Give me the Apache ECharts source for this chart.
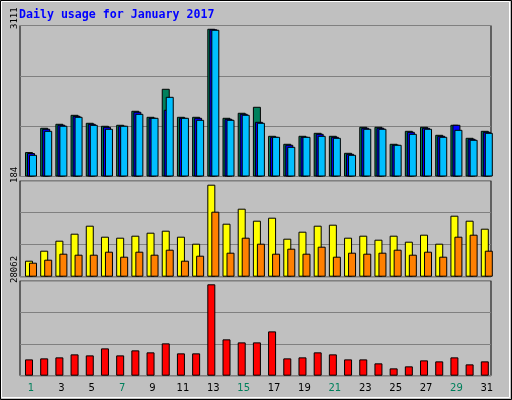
<!DOCTYPE html>
<html>
<head>
<meta charset="utf-8">
<script src="https://cdn.jsdelivr.net/npm/echarts@6/dist/echarts.min.js"></script>
<style>
  html, body { margin: 0; padding: 0; background: #c0c0c0; }
  #chart { width: 512px; height: 400px; }
</style>
</head>
<body>
<div id="chart"></div>
<script>
// data
const days = ["1","2","3","4","5","6","7","8","9","10","11","12","13","14","15","16","17","18","19","20","21","22","23","24","25","26","27","28","29","30","31"];
const weekendDays = ["1","7","8","14","15","21","22","28","29"];

const hits  = [514,1026,1110,1299,1131,1068,1089,1384,1257,1847,1257,1257,3111,1236,1342,1468,857,689,857,920,857,499,1047,1047,689,962,1047,878,1089,815,962];
const files = [494,1005,1090,1278,1110,1047,1068,1363,1236,1405,1236,1236,3100,1215,1321,1152,836,668,836,899,836,478,1026,1026,668,941,1026,857,1089,794,941];
const pages = [457,962,1069,1257,1088,1005,1069,1320,1236,1678,1236,1194,3090,1194,1300,1131,836,625,836,857,815,457,1005,1005,668,899,1005,836,983,773,920];

const visits = [32,52,72,86,102,80,78,82,88,92,80,66,184,106,136,112,118,76,90,102,104,78,82,74,82,70,84,66,122,112,96];
const sites  = [28,34,46,44,44,50,40,50,44,54,32,42,130,48,78,66,46,56,46,60,40,48,46,48,54,44,50,40,80,84,52];

const kbytes = [5010,5320,5630,6550,6240,8390,6240,7780,7170,9930,6860,6860,28062,11160,10230,10230,13610,5320,5630,7170,6550,5010,5010,3790,2250,2870,4710,4400,5630,3480,4400];

const panelMax = [3111, 184, 28062];

const chart = echarts.init(document.getElementById("chart"));

const panels = [
  { top: 25.5, height: 151, max: 3180, interval: 1060 },
  { top: 180.7, height: 96, max: 192, interval: 64 },
  { top: 280.7, height: 95, max: 29170, interval: 9723.33 },
];

const grids = [];
const xAxes = [];
const yAxes = [];
panels.forEach((p, i) => {
  // frame + gridlines
  grids.push({ left: 20, width: 471, top: p.top, height: p.height, show: true,
    backgroundColor: "#c0c0c0", borderColor: "#000", borderWidth: 1 });
  xAxes.push({ type: "category", gridIndex: 2 * i, data: days, show: false });
  yAxes.push({ type: "value", gridIndex: 2 * i, min: 0, max: p.max, interval: p.interval,
    axisLabel: { show: false }, axisLine: { show: false }, axisTick: { show: false },
    splitLine: { lineStyle: { color: "#808080", width: 1 } } });
  // bars, shifted right
  grids.push({ left: 23.4, width: 471, top: p.top, height: p.height });
  const isLast = i === panels.length - 1;
  xAxes.push({ type: "category", gridIndex: 2 * i + 1, data: days,
    axisLine: { show: false }, axisTick: { show: false },
    axisLabel: { show: isLast, margin: 8, fontFamily: "DejaVu Sans", fontSize: 10,
      color: (v) => weekendDays.includes(v) ? "#00805c" : "#000" } });
  yAxes.push({ type: "value", gridIndex: 2 * i + 1, min: 0, max: p.max, show: false,
    splitLine: { show: false } });
});

const bar = (name, data, color, idx) => ({
  name, type: "bar", data, xAxisIndex: idx, yAxisIndex: idx,
  barWidth: 8, itemStyle: { color, borderColor: "#000", borderWidth: 1 },
  animation: false,
});

const series = [
  Object.assign(bar("Hits", hits, "#00805c", 1), { barGap: "-75%" }),
  bar("Files", files, "#0000ff", 1),
  bar("Pages", pages, "#00bfff", 1),
  Object.assign(bar("Visits", visits, "#ffff00", 3), { barGap: "-50%" }),
  bar("Sites", sites, "#ff8000", 3),
  Object.assign(bar("kB F", kbytes, "#ff0000", 5), { barGap: "-50%" }),
  bar("pad", days.map(() => null), "transparent", 5),
];

const sideText = (x, y, text, rich) => ({
  type: "text", x, y, rotation: Math.PI / 2,
  style: { text, rich, font: "9px 'DejaVu Sans Mono'", fill: "#000",
    textAlign: "left", textVerticalAlign: "middle" },
});

const mono = (c) => ({ fill: c, fontFamily: "DejaVu Sans Mono", fontSize: 9.5 });

chart.setOption({
  backgroundColor: "#c0c0c0",
  animation: false,
  grid: grids,
  xAxis: xAxes,
  yAxis: yAxes,
  series,
  graphic: [
    { type: "rect", shape: { x: 0.5, y: 0.5, width: 511, height: 399 },
      style: { fill: "none", stroke: "#000", lineWidth: 1 } },
    { type: "rect", shape: { x: 1.5, y: 1.5, width: 508, height: 396 },
      style: { fill: "none", stroke: "#fff", lineWidth: 1 } },
    { type: "text", x: 19, y: 15,
      style: { text: "Daily usage for January 2017", fill: "#0000ff",
        font: "bold 11.6px 'DejaVu Sans Mono'", textVerticalAlign: "middle" } },
    sideText(15, 29, String(panelMax[0]), {}),
    sideText(15, 183, String(panelMax[1]), {}),
    sideText(15, 283, String(panelMax[2]), {}),
    { type: "text", x: 0, y: 0, rotation: Math.PI / 2, position: [499, 137],
      style: { text: "{p|Pages} / {f|Files} / {h|Hits}", textAlign: "left",
        textVerticalAlign: "middle", font: "9.5px 'DejaVu Sans Mono'", fill: "#000",
        rich: { p: mono("#00bfff"), f: mono("#0000ff"), h: mono("#00805c") } } },
    { type: "text", x: 0, y: 0, rotation: Math.PI / 2, position: [499, 247],
      style: { text: "{s|Sites} / {v|Visits}", textAlign: "left",
        textVerticalAlign: "middle", font: "9.5px 'DejaVu Sans Mono'", fill: "#000",
        rich: { s: mono("#ff8000"), v: mono("#ffff00") } } },
    { type: "text", x: 0, y: 0, rotation: Math.PI / 2, position: [499, 378],
      style: { text: "{f|kB F} / {i|kB In} / {o|kB Out}", textAlign: "left",
        textVerticalAlign: "middle", font: "9.5px 'DejaVu Sans Mono'", fill: "#000",
        rich: { f: mono("#ff0000"), i: mono("#0000ff"), o: mono("#00805c") } } },
  ],
});
</script>
</body>
</html>
